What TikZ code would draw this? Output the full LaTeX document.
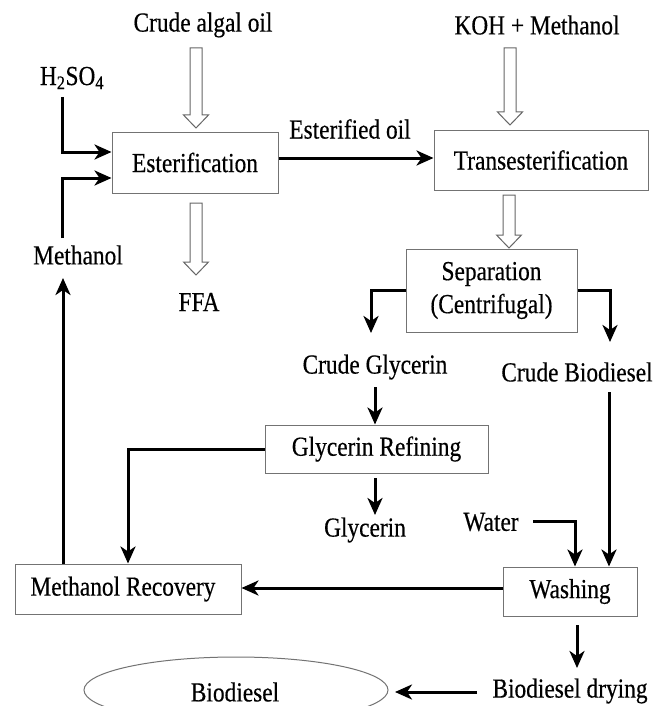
\documentclass[tikz,border=0pt]{standalone}
\usepackage{fontspec}
\setmainfont{Liberation Serif}[FakeStretch=0.85,FakeBold=0.4]
\usetikzlibrary{arrows.meta,calc,shapes.geometric}
\newcommand\diagfont{\fontsize{27.5}{33}\selectfont}
\tikzset{
  lbl/.style={inner sep=0pt, font=\diagfont},
  box/.style={draw=black!55, line width=1pt, inner sep=0pt, font=\diagfont},
  arr/.style={line width=3pt, -{Stealth[length=17pt,width=15pt,inset=5pt]}},
  hollow/.style={draw=black!60, line width=1pt, fill=white, line join=miter}
}
\newcommand\hollowarrow[2]{%
  \draw[hollow] let \p1=#1, \p2=#2 in
    (\x1-6pt,\y1) -- (\x1+6pt,\y1) -- (\x1+6pt,\y2+13pt) -- (\x1+12.5pt,\y2+13pt)
    -- (\x1,\y2) -- (\x1-12.5pt,\y2+13pt) -- (\x1-6pt,\y2+13pt) -- cycle;}
\begin{document}
\begin{tikzpicture}[x=1pt,y=-1pt]
\useasboundingbox (0,0) rectangle (654,706);
\fill[white] (0,0) rectangle (654,706);
\clip (0,0) rectangle (654,706);

% boxes
\node[box, minimum width=166pt, minimum height=61pt] (ester) at (195,162.5) {Esterification};
\node[box, minimum width=214pt, minimum height=60pt] (trans) at (541,160) {Transesterification};
\node[box, minimum width=171pt, minimum height=83pt, align=center] (sep) at (491.5,290.5)
  {\fontsize{27.5}{35}\selectfont Separation\\(Centrifugal)};
\node[box, minimum width=223pt, minimum height=48pt] (glyref) at (376.5,449) {Glycerin Refining};
\node[box, minimum width=226pt, minimum height=50pt] (methrec) at (128,589) {\hspace*{-10pt}Methanol Recovery};
\node[box, minimum width=134pt, minimum height=49pt] (wash) at (570,591.5) {Washing};
\node[ellipse, draw=black!55, line width=1pt, minimum width=304pt, minimum height=66pt, inner sep=0pt] (ell) at (236,690) {};

% labels
\node[lbl] (crude) at (203,25) {Crude algal oil};
\node[lbl] (koh) at (537,25) {KOH + Methanol};
\node[lbl] (h2so4) at (72,78) {H\textsubscript{2}SO\textsubscript{4}};
\node[lbl] (esoil) at (350,129) {Esterified oil};
\node[lbl] (methanol) at (78,255) {Methanol};
\node[lbl] (ffa) at (199,302) {FFA};
\node[lbl] (cglyc) at (375,367) {Crude Glycerin};
\node[lbl] (cbio) at (577,372) {Crude Biodiesel};
\node[lbl] (glyc) at (365,530) {Glycerin};
\node[lbl] (water) at (491,522) {Water};
\node[lbl] (drying) at (570,691) {Biodiesel drying};
\node[lbl] (bio) at (235,692) {Biodiesel};

% free ends
\coordinate (hsA) at (62,97);
\coordinate (meA) at (62,238);
\coordinate (mrTip) at (63,278);
\coordinate (cgTip) at (371,333);
\coordinate (cbTip) at (610,342);
\coordinate (cgA) at (375,387);
\coordinate (grA) at (375,478);
\coordinate (glTip) at (375,515);
\coordinate (cbA) at (609,392);
\coordinate (waA) at (533,521);
\coordinate (wsA) at (577,625);
\coordinate (wsTip) at (577,668);
\coordinate (drA) at (477,692);
\coordinate (drTip) at (395,692);

% hollow arrows
\coordinate (h1a) at (196,48);  \coordinate (h1b) at (196,128);
\coordinate (h2a) at (196,203); \coordinate (h2b) at (196,275);
\coordinate (h3a) at (510,48);  \coordinate (h3b) at (510,125);
\coordinate (h4a) at (509,195); \coordinate (h4b) at (509,248);
\hollowarrow{(h1a)}{(h1b)}
\hollowarrow{(h2a)}{(h2b)}
\hollowarrow{(h3a)}{(h3b)}
\hollowarrow{(h4a)}{(h4b)}

% connectors
\draw[arr] (hsA) |- ([yshift=10.5pt]ester.west);
\draw[arr] (meA) |- ([yshift=-15.5pt]ester.west);
\draw[arr] (methrec.north -| mrTip) -- (mrTip);
\draw[arr] ([yshift=4.5pt]ester.east) -- ([yshift=4.5pt]ester.east -| trans.west);
\draw[arr] ([yshift=0.5pt]sep.west) -| (cgTip);
\draw[arr] ([yshift=0.5pt]sep.east) -| (cbTip);
\draw[arr] (cgA) -- (glyref.north -| cgA);
\draw[arr] (glyref.west) -| (methrec.north);
\draw[arr] (grA) -- (glTip);
\draw[arr] (cbA) -- (wash.north -| cbA);
\draw[arr] (waA) -| ([xshift=5pt]wash.north);
\draw[arr] ([yshift=3.5pt]wash.west) -- ([yshift=3.5pt]wash.west -| methrec.east);
\draw[arr] (wsA) -- (wsTip);
\draw[arr] (drA) -- (drTip);
\end{tikzpicture}
\end{document}
